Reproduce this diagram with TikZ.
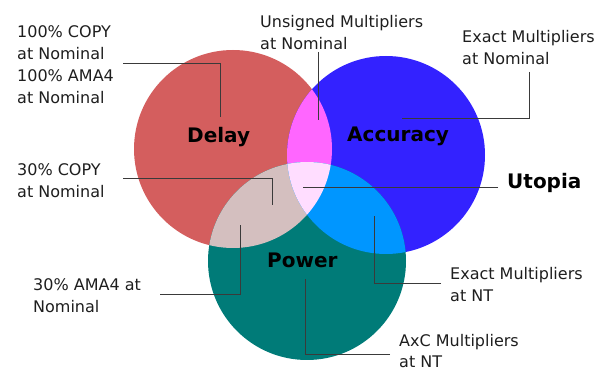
\documentclass[tikz,border=0pt]{standalone}
\usepackage{fontspec}
\setmainfont{DejaVu Sans}
\definecolor{cR}{HTML}{D45E5E}
\definecolor{cB}{HTML}{3322FF}
\definecolor{cT}{HTML}{007B78}
\definecolor{cRB}{HTML}{FF66FF}
\definecolor{cRT}{HTML}{D4BFBF}
\definecolor{cBT}{HTML}{0096FF}
\definecolor{cRBT}{HTML}{FFDDFF}
\definecolor{linec}{HTML}{3A3A3A}
\definecolor{txt}{HTML}{1E1E1E}
\begin{document}
\begin{tikzpicture}[x=1pt,y=-1pt,
  lbl/.style={anchor=north west, inner sep=0pt, align=left, font=\fontsize{16}{22}\selectfont, text=txt},
  big/.style={anchor=base west, inner sep=0pt, font=\fontsize{20}{24}\selectfont\bfseries},
  conn/.style={draw=linec, line width=0.8pt}]
\useasboundingbox (0,0) rectangle (611,371);
\coordinate (R) at (233,149);
\coordinate (B) at (386,155);
\coordinate (T) at (307,261);
\def\rad{99pt}
% circles
\fill[cR] (R) circle[radius=\rad];
\fill[cB] (B) circle[radius=\rad];
\fill[cT] (T) circle[radius=\rad];
\begin{scope}\clip (R) circle[radius=\rad]; \fill[cRB] (B) circle[radius=\rad];\end{scope}
\begin{scope}\clip (R) circle[radius=\rad]; \fill[cRT] (T) circle[radius=\rad];\end{scope}
\begin{scope}\clip (B) circle[radius=\rad]; \fill[cBT] (T) circle[radius=\rad];\end{scope}
\begin{scope}\clip (R) circle[radius=\rad]; \clip (B) circle[radius=\rad]; \fill[cRBT] (T) circle[radius=\rad];\end{scope}
% bold labels
\node[big] (delay) at (187,143) {Delay};
\node[big] (acc) at (347,142) {Accuracy};
\node[big] (utopia) at (507,189) {Utopia};
\node[big] (power) at (267,268) {Power};
% labels
\node[lbl] (l1) at (17,25) {100\% COPY\\at Nominal\\100\% AMA4\\at Nominal};
\node[lbl] (l2) at (260,15) {Unsigned Multipliers\\at Nominal};
\node[lbl] (l3) at (462,30) {Exact Multipliers\\at Nominal};
\node[lbl] (l4) at (17,163) {30\% COPY\\at Nominal};
\node[lbl] (l5) at (33,278) {30\% AMA4 at\\Nominal};
\node[lbl] (l6) at (450,267) {Exact Multipliers\\at NT};
\node[lbl, font=\fontsize{16}{21}\selectfont] (l7) at (399,334) {AxC Multipliers\\at NT};
% connector coordinates
\coordinate (a1) at (123,63);  \coordinate (b1) at (220,117);
\coordinate (a2) at (318,52);  \coordinate (b2) at (318,120);
\coordinate (a3) at (529,72);  \coordinate (b3) at (402,118);
\coordinate (a4) at (123,178); \coordinate (b4) at (272,205);
\coordinate (a5) at (498,187); \coordinate (b5) at (303,187);
\coordinate (a6) at (160,294); \coordinate (b6) at (240,225);
\coordinate (a7) at (441,283); \coordinate (b7) at (374,216);
\coordinate (a8) at (390,354); \coordinate (b8) at (305,279);
\draw[conn] (a1) -| (b1);
\draw[conn] (a2) -- (b2);
\draw[conn] (a3) |- (b3);
\draw[conn] (a4) -| (b4);
\draw[conn] (a5) -- (b5);
\draw[conn] (a6) -| (b6);
\draw[conn] (a7) -| (b7);
\draw[conn] (a8) -| (b8);
\end{tikzpicture}
\end{document}
